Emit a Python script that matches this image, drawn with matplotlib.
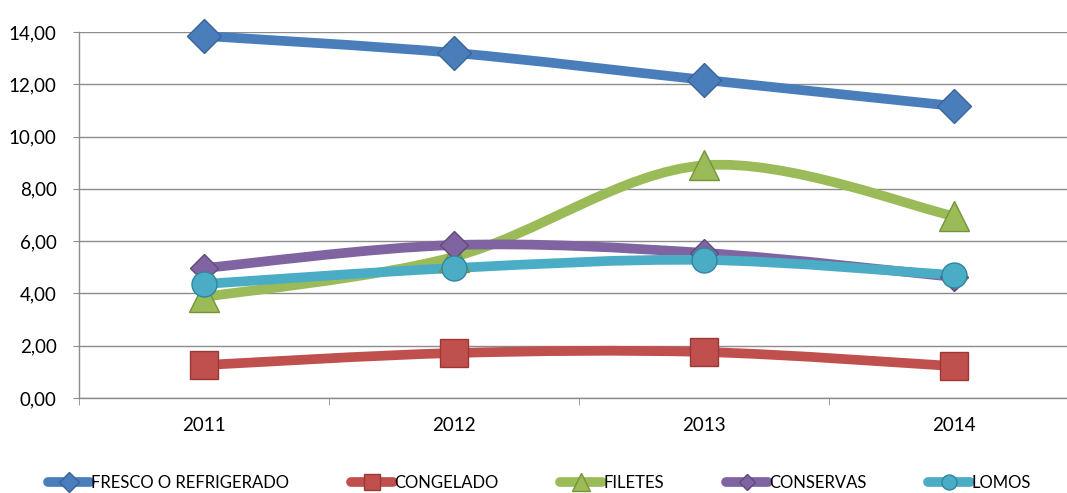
import matplotlib
matplotlib.use("Agg")
import matplotlib.pyplot as plt
from matplotlib.path import Path
from matplotlib.patches import PathPatch
from matplotlib.lines import Line2D
import numpy as np

plt.rcParams['font.family'] = ['Lato', 'DejaVu Sans']

years = ['2011', '2012', '2013', '2014']
fresco = [13.85, 13.20, 12.17, 11.17]
congelado = [1.26, 1.72, 1.76, 1.22]
filetes = [3.86, 5.40, 8.90, 6.96]
conservas = [4.97, 5.85, 5.55, 4.63]
lomos = [4.36, 4.97, 5.28, 4.70]
y_ticks = [0, 2, 4, 6, 8, 10, 12, 14]

series = [
    ('FRESCO O REFRIGERADO', fresco, '#4A7EBB', '#3A659A', 'D', 17),
    ('CONGELADO', congelado, '#C0504D', '#9A3835', 's', 20),
    ('FILETES', filetes, '#9BBB59', '#76923C', '^', 21),
    ('CONSERVAS', conservas, '#8064A2', '#604A7B', 'D', 14),
    ('LOMOS', lomos, '#4BACC6', '#31859C', 'o', 18),
]

W, H = 1067, 493
fig = plt.figure(figsize=(W / 100, H / 100), dpi=100)
left, right, bottom, top = 79, 1079, 398, 32
ax = fig.add_axes([left / W, (H - bottom) / H, (right - left) / W, (bottom - top) / H])
ax.set_xlim(-0.5, 3.5)
ax.set_ylim(0, 14)


def smooth_path(xs, ys):
    pts = np.column_stack([xs, ys]).astype(float)
    n = len(pts)
    verts = [pts[0]]
    codes = [Path.MOVETO]
    for i in range(n - 1):
        p0 = pts[i - 1] if i > 0 else pts[i]
        p1 = pts[i]
        p2 = pts[i + 1]
        p3 = pts[i + 2] if i + 2 < n else pts[i + 1]
        c1 = p1 + (p2 - p0) / 6.0
        c2 = p2 - (p3 - p1) / 6.0
        verts += [c1, c2, p2]
        codes += [Path.CURVE4] * 3
    return Path(verts, codes)


x = np.arange(len(years))
handles = []
for i, (name, vals, col, edge, mk, ms) in enumerate(series):
    patch = PathPatch(smooth_path(x, vals), facecolor='none', edgecolor=col,
                      lw=7.0, capstyle='round', joinstyle='round',
                      transform=ax.transData, zorder=2 + i * 0.01)
    ax.add_patch(patch)
for i, (name, vals, col, edge, mk, ms) in enumerate(series):
    ax.plot(x, vals, linestyle='none', marker=mk, markersize=ms,
            markerfacecolor=col, markeredgecolor=edge, markeredgewidth=1.0,
            zorder=3 + i * 0.01, clip_on=False)
    handles.append(Line2D([0], [0], color=col, lw=7, marker=mk,
                          markersize=ms * 0.6, markerfacecolor=col,
                          markeredgecolor=edge, solid_capstyle='round'))

ax.set_yticks(y_ticks)
ax.set_yticklabels([f'{v:.2f}'.replace('.', ',') for v in y_ticks])
ax.set_xticks(x)
ax.set_xticklabels(years)
ax.set_xticks([-0.5, 0.5, 1.5, 2.5, 3.5], minor=True)
ax.yaxis.grid(True, color='#8C8C8C', lw=1.0)
ax.set_axisbelow(True)

for s in ['top', 'right']:
    ax.spines[s].set_visible(False)
for s in ['left', 'bottom']:
    ax.spines[s].set_color('#8C8C8C')
    ax.spines[s].set_linewidth(1.0)

ax.tick_params(axis='y', length=4, color='#8C8C8C', labelsize=13.5, pad=12,
               labelcolor='#000000')
ax.tick_params(axis='x', which='major', length=0, labelsize=13.5, pad=14,
               labelcolor='#000000')
ax.tick_params(axis='x', which='minor', length=5, color='#8C8C8C')

fig.legend(handles, [s[0] for s in series], loc='center',
           bbox_to_anchor=(539.5 / W, 1 - 483 / H), ncol=5, frameon=False,
           fontsize=12, handlelength=2.5, handletextpad=0.1,
           columnspacing=3.7)

fig.savefig('out.png', dpi=100)
